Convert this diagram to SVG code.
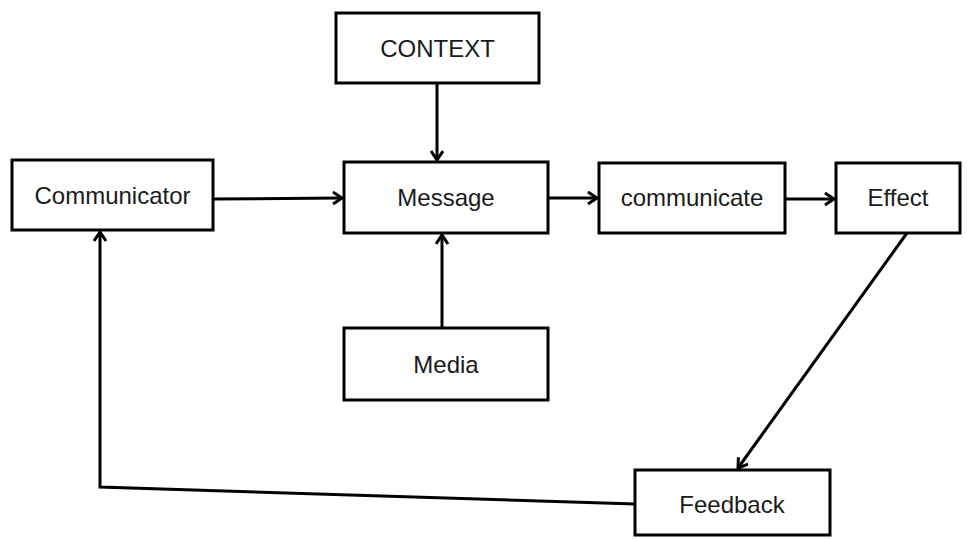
<svg xmlns="http://www.w3.org/2000/svg" width="967" height="539" viewBox="0 0 967 539">
<style>
.box{fill:#fff;stroke:#000;stroke-width:3}
.lbl{font-family:"Liberation Sans",Arial,sans-serif;font-size:24px;fill:#1a1a1a;text-anchor:middle}
.con{fill:none;stroke:#000;stroke-width:3}
</style>
<defs>
<marker id="ah" markerUnits="userSpaceOnUse" markerWidth="14" markerHeight="16" refX="11" refY="7" orient="auto">
<path d="M2,1 L11,7 L2,13" fill="none" stroke="#000" stroke-width="3"/>
</marker>
</defs>
<rect width="967" height="539" fill="#fff"/>
<g id="connectors">
<line class="con" x1="213" y1="199" x2="342" y2="198" marker-end="url(#ah)"/>
<line class="con" x1="437" y1="83" x2="437" y2="160" marker-end="url(#ah)"/>
<line class="con" x1="442" y1="328" x2="442" y2="235" marker-end="url(#ah)"/>
<line class="con" x1="548" y1="198" x2="597" y2="198" marker-end="url(#ah)"/>
<line class="con" x1="785" y1="199" x2="834" y2="199" marker-end="url(#ah)"/>
<line class="con" x1="907" y1="233" x2="738" y2="468" marker-end="url(#ah)"/>
<polyline class="con" points="635,504 100,487 100,232" marker-end="url(#ah)"/>
</g>
<g id="context"><rect class="box" x="336" y="13" width="203" height="70"/><text class="lbl" x="437.5" y="57">CONTEXT</text></g>
<g id="communicator"><rect class="box" x="12" y="160" width="201" height="70"/><text class="lbl" x="112.5" y="204">Communicator</text></g>
<g id="message"><rect class="box" x="344" y="162" width="204" height="71"/><text class="lbl" x="446" y="206">Message</text></g>
<g id="communicate"><rect class="box" x="599" y="163" width="186" height="70"/><text class="lbl" x="692" y="206">communicate</text></g>
<g id="effect"><rect class="box" x="836" y="163" width="124" height="70"/><text class="lbl" x="898" y="206">Effect</text></g>
<g id="media"><rect class="box" x="344" y="328" width="204" height="72"/><text class="lbl" x="446" y="373">Media</text></g>
<g id="feedback"><rect class="box" x="635" y="470" width="195" height="65"/><text class="lbl" x="732" y="513">Feedback</text></g>
</svg>
